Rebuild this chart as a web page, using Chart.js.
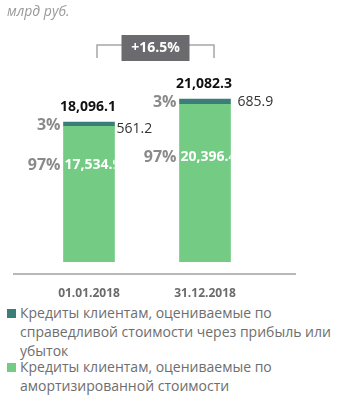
<!DOCTYPE html>
<html>
<head>
<meta charset="utf-8">
<script src="https://cdn.jsdelivr.net/npm/chart.js@4/dist/chart.umd.min.js"></script>
<style>
  body { margin: 0; background: #fff; font-family: "Open Sans", sans-serif; }
  #wrap { position: relative; width: 347px; height: 398px; overflow: hidden; }
  #chart { position: absolute; left: 0; top: 0; }
  #title { position: absolute; left: 7px; top: 1px; font-size: 14px; font-style: italic; color: #9a9a9a; }
  #legend { position: absolute; left: 7px; top: 303px; width: 335px; font-size: 14px; color: #6e6e6e; line-height: 19px; }
  .item { position: relative; padding-left: 13px; margin-bottom: -3px; }
  .sw { position: absolute; left: 0; top: 6px; width: 9px; height: 9px; }
</style>
</head>
<body>
<div id="wrap">
  <canvas id="chart" width="347" height="300"></canvas>
  <div id="title">млрд руб.</div>
  <div id="legend"></div>
</div>
<script>
/* -------------------- DATA -------------------- */
const dates = ["01.01.2018", "31.12.2018"];
const amortised = [17534.9, 20396.4];
const fairValue = [561.2, 685.9];
const totals = [18096.1, 21082.3];
const sharesAmortised = ["97%", "97%"];
const sharesFair = ["3%", "3%"];
const growthLabel = "+16.5%";
const seriesNames = [
    "Кредиты клиентам, оцениваемые по справедливой стоимости через прибыль или убыток",
    "Кредиты клиентам, оцениваемые по амортизированной стоимости"
];

const GREEN = "#74cc84";
const TEAL = "#3b7e79";

function fmt(v) {
    return v.toLocaleString("en-US", { minimumFractionDigits: 1, maximumFractionDigits: 1 });
}

/* -------------------- LABELS PLUGIN -------------------- */
// per-bar nudges, the source placed these a bit unevenly
const fairLabelOffset = [{ dx: 2, dy: 7 }, { dx: 7, dy: 3 }];
const innerLabelOffset = [39, 53];

const labelsPlugin = {
    id: "labels",
    afterDatasetsDraw(chart) {
        const ctx = chart.ctx;
        const green = chart.getDatasetMeta(0).data;
        const teal = chart.getDatasetMeta(1).data;
        ctx.save();
        ctx.textBaseline = "middle";

        for (let i = 0; i < dates.length; i++) {
            const g = green[i];
            const t = teal[i];
            const left = g.x - g.width / 2;
            const right = g.x + g.width / 2;

            // total above
            ctx.fillStyle = "#111";
            ctx.font = "bold 14px 'Open Sans'";
            ctx.textAlign = "center";
            ctx.fillText(fmt(totals[i]), g.x - 1, t.y - 15);

            // 3%
            ctx.fillStyle = "#8a8a8a";
            ctx.font = "bold 16px 'Open Sans'";
            ctx.textAlign = "right";
            ctx.fillText(sharesFair[i], left - 3, (t.y + t.base) / 2 + 1);

            // fair value amount
            ctx.fillStyle = "#333";
            ctx.font = "14px 'Open Sans'";
            ctx.textAlign = "left";
            ctx.fillText(fmt(fairValue[i]), right + fairLabelOffset[i].dx, t.y + fairLabelOffset[i].dy);

            // 97%
            const yIn = g.y + innerLabelOffset[i];
            ctx.fillStyle = "#8a8a8a";
            ctx.font = "bold 16px 'Open Sans'";
            ctx.textAlign = "right";
            ctx.fillText(sharesAmortised[i], left - 3, yIn);

            // white value inside bar, clipped to the bar
            ctx.save();
            ctx.beginPath();
            ctx.rect(left, g.y, g.width, g.base - g.y);
            ctx.clip();
            ctx.fillStyle = "#fff";
            ctx.font = "bold 14px 'Open Sans'";
            ctx.textAlign = "left";
            ctx.fillText(fmt(amortised[i]), left + 1, yIn);
            ctx.restore();
        }

        // growth bracket
        const x1 = green[0].x + 8;
        const x2 = green[1].x + 9;
        const yTop = 45, yBot = 58;
        ctx.strokeStyle = "#a6a6a6";
        ctx.lineWidth = 1.5;
        ctx.beginPath();
        ctx.moveTo(x1, yBot);
        ctx.lineTo(x1, yTop);
        ctx.lineTo(x2, yTop);
        ctx.lineTo(x2, yBot);
        ctx.stroke();

        const cx = (x1 + x2) / 2;
        ctx.fillStyle = "#6b6a6f";
        ctx.fillRect(cx - 34, 35, 68, 26);
        ctx.fillStyle = "#fff";
        ctx.font = "bold 14px 'Open Sans'";
        ctx.textAlign = "center";
        ctx.fillText(growthLabel, cx, 48.5);

        // base line
        const yb = chart.chartArea.bottom + 12;
        ctx.strokeStyle = "#a0a0a0";
        ctx.lineWidth = 1.5;
        ctx.beginPath();
        ctx.moveTo(13, yb);
        ctx.lineTo(296, yb);
        ctx.stroke();

        ctx.restore();
    }
};

/* -------------------- CHART -------------------- */
new Chart(document.getElementById("chart"), {
    type: "bar",
    data: {
        labels: dates,
        datasets: [
            { label: seriesNames[1], data: amortised, backgroundColor: GREEN },
            { label: seriesNames[0], data: fairValue, backgroundColor: TEAL }
        ]
    },
    options: {
        responsive: false,
        animation: false,
        layout: { padding: { left: 31, right: 84, top: 60, bottom: 0 } },
        datasets: { bar: { barThickness: 51 } },
        plugins: {
            legend: { display: false },
            tooltip: { enabled: false }
        },
        scales: {
            x: {
                stacked: true,
                grid: { display: false, drawTicks: false },
                border: { display: false },
                ticks: {
                    color: "#6b6b6b",
                    font: { family: "Open Sans", size: 12, weight: "bold" },
                    padding: 24
                },
                afterFit(scale) { scale.height = 38; }
            },
            y: {
                stacked: true,
                display: false,
                min: 0,
                max: 26120
            }
        }
    },
    plugins: [labelsPlugin]
});

/* -------------------- LEGEND -------------------- */
const legendColors = [TEAL, GREEN];
document.getElementById("legend").innerHTML = seriesNames.map((name, i) =>
    `<div class="item"><span class="sw" style="background:${legendColors[i]}"></span>${name}</div>`
).join("");
</script>
</body>
</html>
